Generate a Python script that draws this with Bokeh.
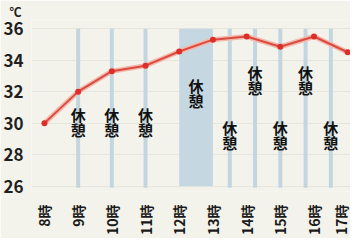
import math
from bokeh.plotting import figure
from bokeh.models import FixedTicker, Range1d, Title
from bokeh.core.properties import value
from bokeh.embed import file_html
from bokeh.resources import INLINE

hours = [8, 9, 10, 11, 12, 13, 14, 15, 16, 17]
hour_labels = ["8時", "9時", "10時", "11時", "12時", "13時", "14時", "15時", "16時", "17時"]
temps = [30.0, 32.0, 33.3, 33.65, 34.55, 35.3, 35.5, 34.85, 35.5, 34.5]
y_ticks = [26, 28, 30, 32, 34, 36]
unit_label = "℃"
rest_text = "休憩"
rest_morning = [9, 10, 11]            # short breaks in the morning
rest_pm_low = [13.5, 15, 16.5]        # afternoon breaks, label low
rest_pm_high = [14.25, 15.75]         # afternoon breaks, label high
lunch_start = [12]
lunch_end = [13]

BG = "#f4f3eb"
JP = "Noto Sans CJK JP"

p = figure(width=350, height=238, output_backend="svg", toolbar_location=None,
           x_range=Range1d(7.615, 17.083), y_range=Range1d(25.66, 36.58),
           min_border_left=30, min_border_top=12, min_border_right=0, min_border_bottom=40,
           background_fill_color=BG, border_fill_color=BG, outline_line_color=None)

p.add_layout(Title(text=unit_label, align="left", offset=-22, standoff=0,
                   text_font=JP, text_font_style="bold", text_font_size="12px",
                   text_color="#1f1f1f", text_line_height=1.0), "above")

p.xgrid.grid_line_color = None
p.ygrid.ticker = FixedTicker(ticks=y_ticks)
p.ygrid.grid_line_color = "#e7e6dd"

# lunch band
p.quad(left=lunch_start, right=lunch_end, bottom=26, top=36,
       fill_color="#c5d7e1", line_color=None)

# break lines
all_rest = rest_morning + rest_pm_low + rest_pm_high
p.segment(x0=all_rest, x1=all_rest, y0=[25.9] * len(all_rest), y1=[36] * len(all_rest),
          line_color="#c3d6e0", line_width=4)

# temperature line
p.line(hours, temps, line_color="#f2b9ad", line_width=5)
p.line(hours, temps, line_color="#dc4a40", line_width=2)
p.scatter(hours, temps, size=6, fill_color="#dd2e2a", line_color=None)

def vlabel(xs, ytop):
    for i, ch in enumerate(rest_text):
        p.text(x=xs, y=[ytop] * len(xs), y_offset=15 * i, text=[ch] * len(xs),
               text_font=value(JP), text_font_style="bold", text_font_size="15px",
               text_align="center", text_baseline="middle", text_color="#111111")

vlabel(rest_morning, 30.53)
vlabel(rest_pm_low, 29.71)
vlabel(rest_pm_high, 33.21)
vlabel([(lunch_start[0] + lunch_end[0]) / 2], 32.4)

p.xaxis.ticker = FixedTicker(ticks=hours)
p.xaxis.major_label_overrides = {h: l for h, l in zip(hours, hour_labels)}
p.xaxis.major_label_orientation = math.pi / 2
p.xaxis.major_label_text_font = JP
p.xaxis.major_label_text_font_style = "bold"
p.xaxis.major_label_text_font_size = "14px"
p.xaxis.major_label_text_color = "#1a1a1a"
p.xaxis.major_label_standoff = 7
p.xaxis.axis_line_color = None
p.xaxis.major_tick_line_color = None
p.xaxis.minor_tick_line_color = None

p.yaxis.ticker = FixedTicker(ticks=y_ticks)
p.yaxis.major_label_text_font = JP
p.yaxis.major_label_text_font_style = "bold"
p.yaxis.major_label_text_font_size = "17px"
p.yaxis.major_label_text_color = "#1f1f1f"
p.yaxis.major_label_standoff = 2
p.yaxis.axis_line_color = None
p.yaxis.major_tick_line_color = None
p.yaxis.minor_tick_line_color = None

open("out.html", "w").write(file_html(p, INLINE))
